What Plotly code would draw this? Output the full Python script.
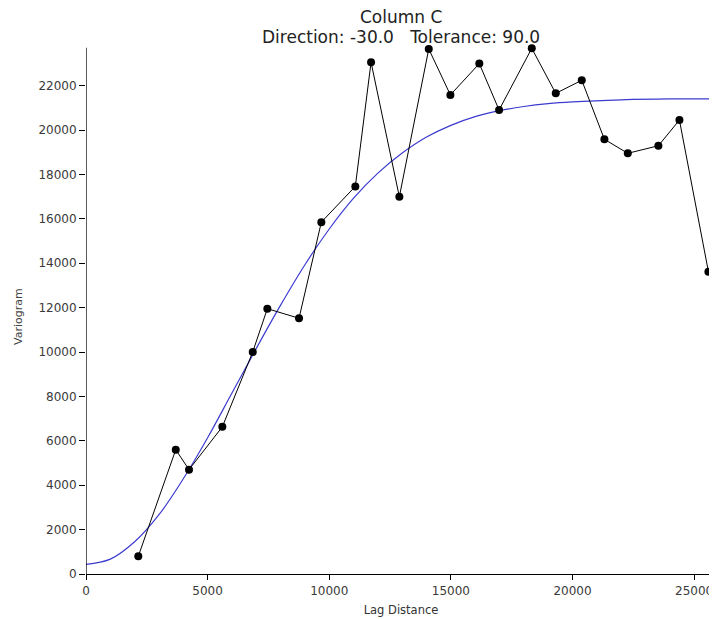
import plotly.graph_objects as go

# Experimental variogram points (lag distance, variogram)
lag = [2150, 3690, 4235, 5605, 6854, 7455, 8758, 9675, 11073, 11719, 12882,
       14091, 14980, 16170, 16982, 18326, 19313, 20382, 21312, 22274, 23532,
       24396, 25588]
gamma = [800, 5600, 4700, 6630, 10000, 11950, 11520, 15850, 17460, 23050, 16990,
         23650, 21580, 22990, 20900, 23680, 21650, 22240, 19580, 18950, 19290,
         20450, 13620]

# Fitted model curve
model_lag = [0, 1000, 2000, 3000, 4000, 5000, 6000, 7000, 8000, 9000, 10000,
             11000, 12000, 13000, 14000, 15000, 16000, 17000, 18000, 19000,
             20000, 22000, 24000, 25900]
model_gamma = [430, 670, 1450, 2670, 4290, 6140, 8150, 10160, 12110, 13930, 15540,
               16930, 18060, 18960, 19680, 20210, 20600, 20870, 21060, 21190,
               21270, 21360, 21400, 21400]

x_ticks = [0, 5000, 10000, 15000, 20000, 25000]
y_ticks = [0, 2000, 4000, 6000, 8000, 10000, 12000, 14000, 16000, 18000, 20000, 22000]

title_line1 = "Column C"
title_line2 = "Direction: -30.0\u00a0\u00a0\u00a0Tolerance: 90.0"
x_title = "Lag Distance"
y_title = "Variogram"

X_RANGE = [0, 25900]
Y_RANGE = [-180, 25000]
Y_AXIS_TOP = 23700

# the page body adds an 8px offset; size the figure so it fits the 717x619 window
FIG_W, FIG_H = 709, 611
M_L, M_R, M_T, M_B = 78, 1, 11, 41
PLOT_W = FIG_W - M_L - M_R
PLOT_H = FIG_H - M_T - M_B
OFF = 8  # page offset
PLOT_TOP = M_T + OFF
PLOT_BOTTOM = FIG_H - M_B + OFF
PLOT_LEFT = M_L + OFF

fig = go.Figure()
fig.add_trace(go.Scatter(
    x=model_lag, y=model_gamma, mode="lines", line_shape="spline",
    line=dict(color="#3b3bd0", width=1.2), showlegend=False, hoverinfo="skip"))
fig.add_trace(go.Scatter(
    x=lag, y=gamma, mode="lines+markers",
    line=dict(color="black", width=1),
    marker=dict(color="black", size=8, symbol="circle"),
    showlegend=False))

tick_font = dict(family="DejaVu Sans", size=12, color="#3a3a3a")
title_font = dict(family="DejaVu Sans", size=17, color="#222222")

fig.update_layout(
    width=FIG_W, height=FIG_H,
    margin=dict(l=M_L, r=M_R, t=M_T, b=M_B, autoexpand=False),
    plot_bgcolor="white", paper_bgcolor="white",
    xaxis=dict(range=X_RANGE, tickvals=x_ticks, ticktext=[str(v) for v in x_ticks],
               showgrid=False, zeroline=False, showline=True, linecolor="black",
               linewidth=1.3, ticks="outside", ticklen=5, tickcolor="black",
               tickfont=tick_font, anchor="free", automargin=False,
               position=(0 - Y_RANGE[0]) / (Y_RANGE[1] - Y_RANGE[0]),
               title=dict(text=x_title, font=dict(family="DejaVu Sans", size=11.5, color="#333333"),
                          standoff=9)),
    yaxis=dict(range=Y_RANGE, tickvals=y_ticks, ticktext=[str(v) for v in y_ticks],
               showgrid=False, zeroline=False, showline=False, automargin=False,
               ticks="outside", ticklen=6, tickcolor="black",
               tickfont=tick_font),
)

fig.add_annotation(text=title_line1, xref="paper", yref="paper", x=0.5,
                   y=1 + (PLOT_TOP - 17.5) / PLOT_H, xanchor="center", yanchor="middle",
                   showarrow=False, font=title_font)
fig.add_annotation(text=title_line2, xref="paper", yref="paper", x=0.5,
                   y=1 - (37 - PLOT_TOP) / PLOT_H, xanchor="center", yanchor="middle",
                   showarrow=False, font=title_font)
fig.add_annotation(text=y_title, xref="paper", yref="paper",
                   x=(19 - PLOT_LEFT) / PLOT_W, y=(PLOT_BOTTOM - 317) / PLOT_H,
                   xanchor="center", yanchor="middle", textangle=-90, showarrow=False,
                   font=dict(family="DejaVu Sans", size=11, color="#444444"))

# y axis line, stopping below the top of the plotting area as in the original
fig.add_shape(type="line", xref="x", yref="y", x0=0, x1=0,
              y0=Y_RANGE[0], y1=Y_AXIS_TOP, line=dict(color="black", width=1.3))

fig.write_html("out.html")
